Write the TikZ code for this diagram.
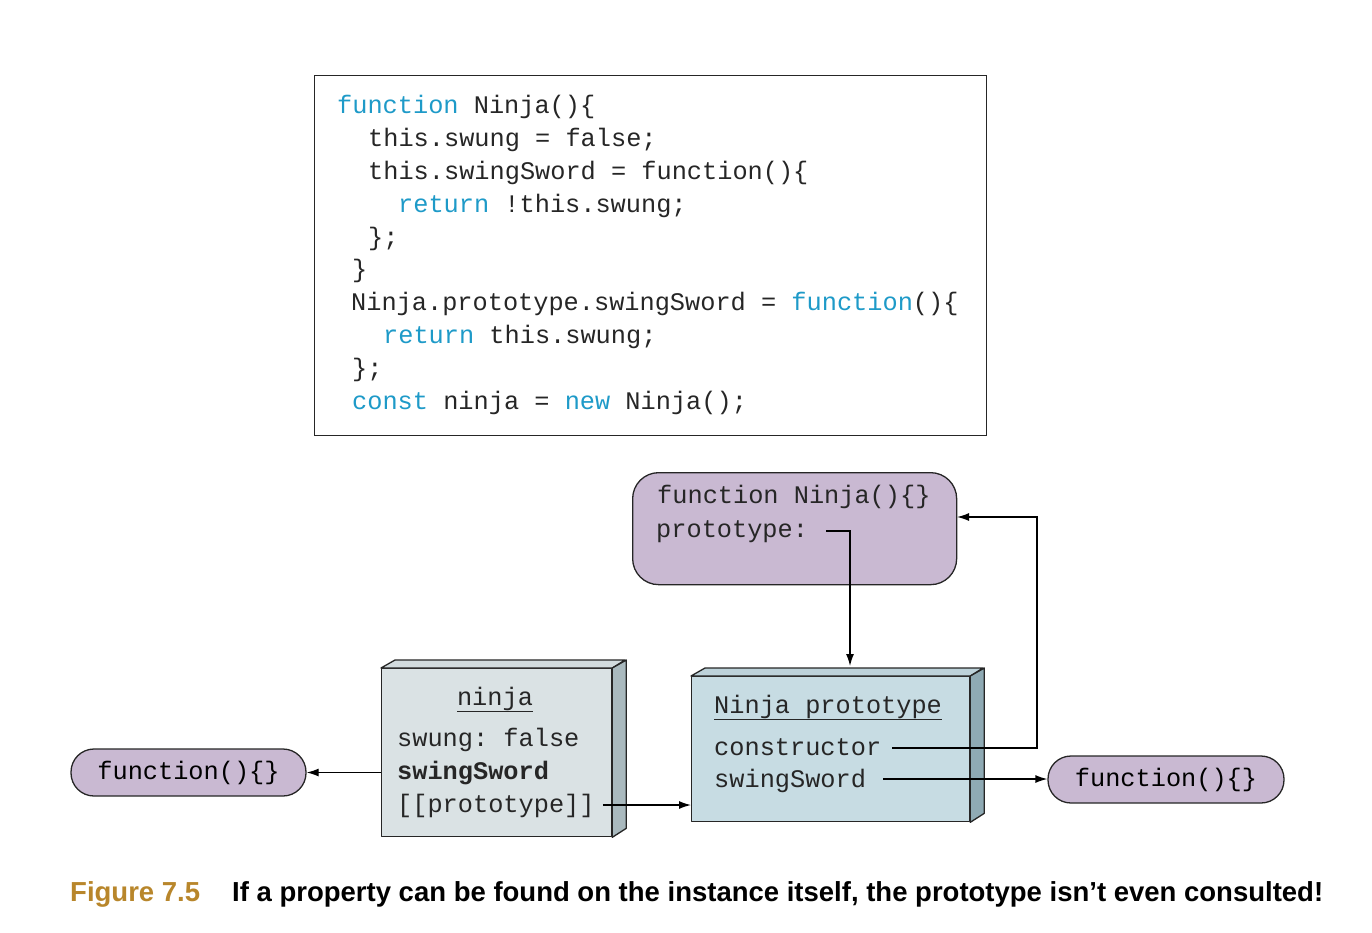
\documentclass[tikz,border=0pt]{standalone}
\usepackage{fontspec}
\setmonofont{Liberation Mono}
\newfontfamily\capfont{Liberation Sans}
\usetikzlibrary{arrows.meta,calc}
\definecolor{kw}{HTML}{1E9AC8}
\definecolor{purp}{HTML}{C9B9D2}
\definecolor{nfront}{HTML}{DAE2E4}
\definecolor{nside}{HTML}{A9B9BE}
\definecolor{ntop}{HTML}{D2DBDE}
\definecolor{pfront}{HTML}{C7DCE3}
\definecolor{pside}{HTML}{8FAAB4}
\definecolor{ptop}{HTML}{BDD2DA}
\definecolor{gold}{HTML}{B8862B}
\tikzset{
  code/.style={anchor=base west,inner sep=0pt,font=\ttfamily\fontsize{25.3}{30}\selectfont,text=black!85},
  pill/.style={draw=black!85,line width=1.3pt,fill=purp,rounded corners=23pt,inner sep=0pt},
  face/.style={draw=black!85,line width=1.3pt,line join=round},
  arr/.style={line width=1.3pt,-{Latex[length=12pt,width=8pt]}}
}
\begin{document}
\begin{tikzpicture}[x=1pt,y=-1pt]
\useasboundingbox (0,0) rectangle (1372,932);
% code box
\node[draw=black!85,line width=1.3pt,minimum width=672pt,minimum height=360pt,anchor=north west,inner sep=0pt] (codebox) at (314,75) {};
\node[code] (c1) at (337,113) {\textcolor{kw}{function} Ninja()\{};
\node[code] (c2) at (368,146) {this.swung = false;};
\node[code] (c3) at (368,179) {this.swingSword = function()\{};
\node[code] (c4) at (398,212) {\textcolor{kw}{return} !this.swung;};
\node[code] (c5) at (368,245) {\};};
\node[code] (c6) at (352,277) {\}};
\node[code] (c7) at (351,310) {Ninja.prototype.swingSword = \textcolor{kw}{function}()\{};
\node[code] (c8) at (383,343) {\textcolor{kw}{return} this.swung;};
\node[code] (c9) at (352,376) {\};};
\node[code] (c10) at (352,409) {\textcolor{kw}{const} ninja = \textcolor{kw}{new} Ninja();};
% function Ninja box
\node[pill,minimum width=324pt,minimum height=112pt,anchor=north west,rounded corners=26pt] (fn) at (632,472) {};
\node[code] (fnt) at (657,503) {function Ninja()\{\}};
\node[code] (pt) at (656,537) {prototype:};
% ninja box
\node[face,fill=nfront,minimum width=230pt,minimum height=168pt,anchor=north west,inner sep=0pt] (nb) at (381,668) {};
\draw[face,fill=ntop] (nb.north west) -- ++(14,-8) -- ++(230,0) -- (nb.north east) -- cycle;
\draw[face,fill=nside] (nb.north east) -- ++(14,-8) -- ($(nb.south east)+(14,-9)$) -- (nb.south east) -- cycle;
\node[code,anchor=base] (nt) at (495,705) {\underline{ninja}};
\node[code] (n1) at (397,746) {swung: false};
\node[code,font=\ttfamily\bfseries\fontsize{25.3}{30}\selectfont] (n2) at (397,779) {swingSword};
\node[code] (n3) at (397,812) {[[prototype]]};
% Ninja prototype box
\node[face,fill=pfront,minimum width=278pt,minimum height=145pt,anchor=north west,inner sep=0pt] (pb) at (691,676) {};
\draw[face,fill=ptop] (pb.north west) -- ++(14,-8) -- ++(278,0) -- (pb.north east) -- cycle;
\draw[face,fill=pside] (pb.north east) -- ++(14,-8) -- ($(pb.south east)+(14,-9)$) -- (pb.south east) -- cycle;
\node[code] (pt0) at (714,713) {\underline{Ninja prototype}};
\node[code] (p1) at (714,755) {constructor};
\node[code] (p2) at (714,787) {swingSword};
% pills
\node[pill,minimum width=235pt,minimum height=47pt] (lf) at (188.5,772.5) {\ttfamily\fontsize{25.3}{30}\selectfont function()\{\}};
\node[pill,minimum width=236pt,minimum height=47pt] (rf) at (1166,779.5) {\ttfamily\fontsize{25.3}{30}\selectfont function()\{\}};
% connectors
\coordinate (pdown) at (850,666);
\coordinate (fnin) at (957,517);
\coordinate (turn) at (1037,748);
\draw[arr] (nb.west |- lf.east) -- (lf.east);
\draw[arr] ([xshift=8pt,yshift=7pt]n3.base east) coordinate (s3) -- (pb.west |- s3);
\draw[arr] ([xshift=18pt,yshift=6pt]pt.base east) -| (pdown);
\draw[arr] ([xshift=11pt,yshift=7pt]p1.base east) coordinate (s1) -- (turn |- s1) |- (fnin);
\draw[arr] ([xshift=17pt,yshift=8pt]p2.base east) coordinate (s2) -- (rf.west |- s2);
% caption
\node[anchor=base west,inner sep=0pt,font=\capfont\bfseries\fontsize{27.5}{30}\selectfont,text=gold] (fig) at (70,901) {Figure 7.5};
\node[anchor=base west,inner sep=0pt,font=\capfont\bfseries\fontsize{27.5}{30}\selectfont] (cap) at (232,901) {If a property can be found on the instance itself, the prototype isn’t even consulted!};
\end{tikzpicture}
\end{document}
